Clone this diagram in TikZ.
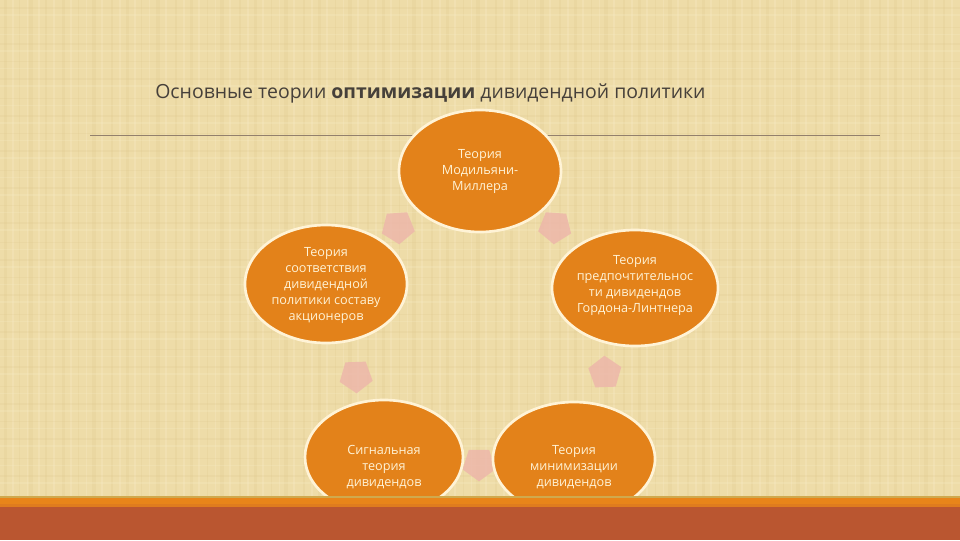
\documentclass[tikz,border=0pt]{standalone}
\usepackage{fontspec}
\setmainfont{Open Sans}
\usetikzlibrary{shapes.geometric}

\definecolor{papyrus}{HTML}{EEDCA8}
\definecolor{papyrusdark}{HTML}{D9C184}
\definecolor{papyruslight}{HTML}{F7EAC2}
\definecolor{discorange}{HTML}{E3821A}
\definecolor{disccream}{HTML}{FFF3D6}
\definecolor{arrowpink}{HTML}{EDB7AA}
\definecolor{bandorange}{HTML}{E8851A}
\definecolor{bandred}{HTML}{BA5630}
\definecolor{bandgold}{HTML}{CFA94E}
\definecolor{titlegray}{HTML}{46403A}

\tikzset{
  disc/.style={ellipse, fill=discorange, draw=disccream, line width=2pt, inner sep=0pt},
  disctext/.style={align=center, text=disccream, font=\fontsize{9.5}{12}\selectfont},
  cyclearrow/.style={regular polygon, regular polygon sides=5, fill=arrowpink, fill opacity=0.85, minimum size=26pt, inner sep=0pt}
}

\begin{document}
\begin{tikzpicture}[x=0.75pt,y=-0.75pt]

\useasboundingbox (0,0) rectangle (960,540);
\fill[papyrus] (0,0) rectangle (960,540);

% papyrus texture
\foreach \x/\w in {5/3,19/1,31/4,46/2,63/3,78/1,94/4,112/2,127/3,141/1,158/4,176/2,191/3,
  207/1,222/4,240/2,255/3,271/1,286/4,304/2,319/3,335/1,350/4,368/2,383/3,399/1,414/4,
  432/2,447/3,463/1,478/4,496/2,511/3,527/1,542/4,560/2,575/3,591/1,606/4,624/2,639/3,
  655/1,670/4,688/2,703/3,719/1,734/4,752/2,767/3,783/1,798/4,816/2,831/3,847/1,862/4,
  880/2,895/3,911/1,926/4,944/2} {
  \draw[papyrusdark, opacity=0.18, line width=\w*0.75pt] (\x,0) -- (\x,497);
  \draw[papyruslight, opacity=0.35, line width=\w*0.5pt] (\x+8,0) -- (\x+8,497);
}
\foreach \y/\w in {8/2,27/1,44/3,61/1,79/2,98/1,116/3,133/1,151/2,170/1,188/3,205/1,
  223/2,242/1,260/3,277/1,295/2,314/1,332/3,349/1,367/2,386/1,404/3,421/1,439/2,458/1,476/3} {
  \draw[papyrusdark, opacity=0.15, line width=\w*0.6pt] (0,\y) -- (960,\y);
  \draw[papyruslight, opacity=0.3, line width=\w*0.5pt] (0,\y+7) -- (960,\y+7);
}

% title
\node[text=titlegray, font=\fontsize{14.6}{17}\selectfont, anchor=west, inner sep=0pt] (title) at (155,93)
  {Основные теории \textbf{оптимизации} дивидендной политики};

\coordinate (rulel) at (90,135);
\coordinate (ruler) at (880,135);
\draw[gray!70!brown, line width=0.6pt] (rulel) -- (ruler);

% arrows of the cycle
\node[cyclearrow, rotate=40] (arrtl) at (398,227) {};
\node[cyclearrow, rotate=-40] (arrtr) at (555,227) {};
\node[cyclearrow, rotate=-70] (arrr) at (605,373) {};
\node[cyclearrow, rotate=180] (arrb) at (479,464) {};
\node[cyclearrow, rotate=110] (arrl) at (356,376) {};

% discs
\node[disc, minimum width=121.5pt, minimum height=91.5pt] (mm) at (480,171) {};
\node[disc, minimum width=121.5pt, minimum height=88.5pt] (sost) at (326,284) {};
\node[disc, minimum width=124.5pt, minimum height=87pt] (gl) at (635,288) {};
\node[disc, minimum width=118.5pt, minimum height=85.5pt] (sig) at (384,457) {};
\node[disc, minimum width=121.5pt, minimum height=85.5pt] (min) at (574,459) {};

\node[disctext] (mmt) at (480,171) {Теория\\Модильяни-\\Миллера};
\node[disctext] (sostt) at (326,285) {Теория\\соответствия\\дивидендной\\политики составу\\акционеров};
\node[disctext] (glt) at (635,285) {Теория\\предпочтительнос\\ти дивидендов\\Гордона-Линтнера};
\node[disctext] (sigt) at (384,467) {Сигнальная\\теория\\дивидендов};
\node[disctext] (mint) at (574,467) {Теория\\минимизации\\дивидендов};

% bottom band
\fill[bandgold] (0,496) rectangle (960,498);
\fill[bandorange] (0,498) rectangle (960,504);
\fill[bandorange!80!bandred] (0,504) rectangle (960,507);
\fill[bandred] (0,507) rectangle (960,540);

\end{tikzpicture}
\end{document}
